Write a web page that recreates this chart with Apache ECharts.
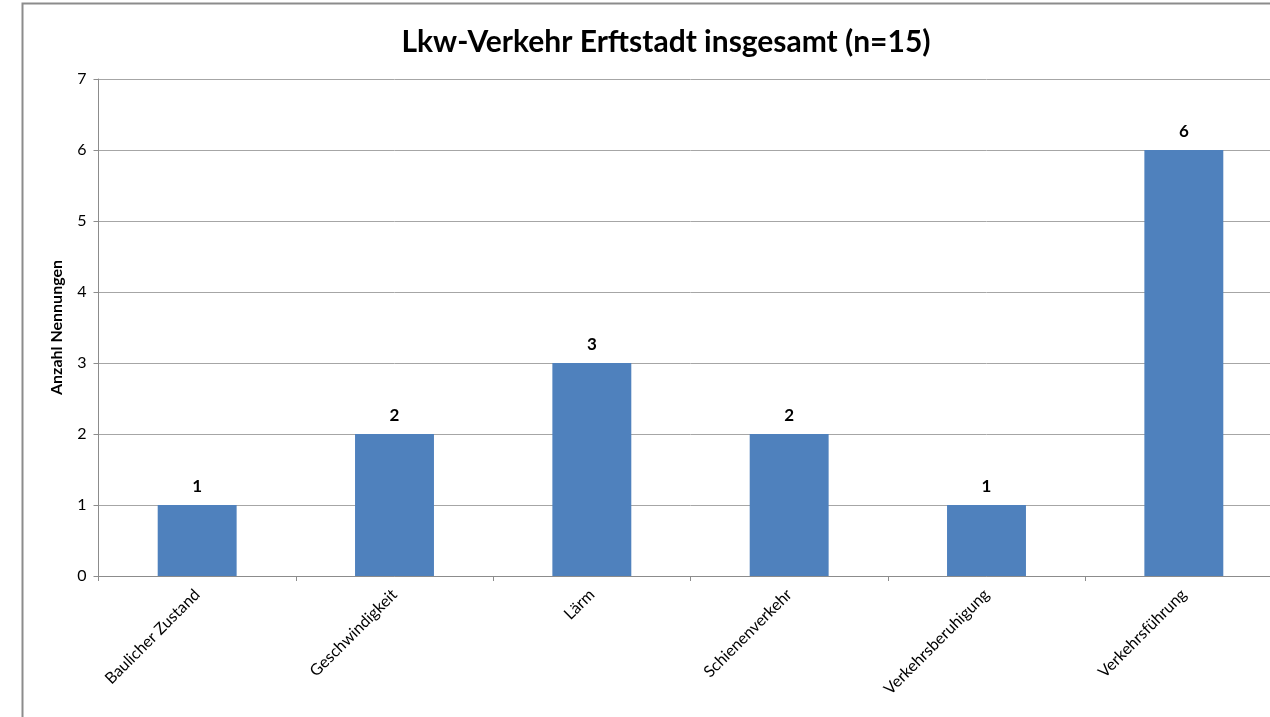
<!DOCTYPE html>
<html lang="de">
<head>
	<meta charset="utf-8" />
	<title>Lkw-Verkehr Erftstadt insgesamt</title>
	<style type="text/css">
		html,body{margin:0;padding:0;background:#fff;overflow:hidden;}
		/* etwas breiter als das Fenster: die Zeichenfläche läuft rechts über den Rand */
		#chart{width:1300px;height:717px;}
	</style>
</head>
<body>
	<div id="chart"></div>
<script src="https://cdn.jsdelivr.net/npm/echarts@6/dist/echarts.min.js"></script>
<script>
	// Kategorien und Werte
	var categories = ['Baulicher Zustand', 'Geschwindigkeit', 'Lärm', 'Schienenverkehr', 'Verkehrsberuhigung', 'Verkehrsführung'];
	var counts = [1, 2, 3, 2, 1, 6];
	var yTicks = [0, 1, 2, 3, 4, 5, 6, 7];

	var font = 'Lato, "Open Sans", sans-serif';
	var chart = echarts.init(document.getElementById('chart'));
	chart.setOption({
		backgroundColor: '#fff',
		animation: false,
		title: {
			text: 'Lkw-Verkehr Erftstadt insgesamt (n=15)',
			left: 661,
			top: 22,
			textAlign: 'center',
			textStyle: {fontFamily: font, fontSize: 30, fontWeight: 'bold', color: '#000'}
		},
		// Rahmen des Diagrammbereichs
		graphic: [{
			type: 'rect',
			shape: {x: 22.5, y: 3.5, width: 1300, height: 800},
			style: {fill: 'none', stroke: '#8c8c8c', lineWidth: 2},
			silent: true
		}],
		grid: {left: 98.5, width: 1184, top: 79, height: 497},
		xAxis: {
			type: 'category',
			data: categories,
			axisLine: {lineStyle: {color: '#8c8c8c'}},
			axisTick: {show: true, length: 5, lineStyle: {color: '#8c8c8c'}},
			axisLabel: {
				rotate: 45,
				margin: 16,
				fontFamily: font,
				fontSize: 16,
				color: '#000'
			}
		},
		yAxis: {
			type: 'value',
			min: yTicks[0],
			max: yTicks[yTicks.length - 1],
			interval: 1,
			name: 'Anzahl Nennungen',
			nameLocation: 'middle',
			nameGap: 34,
			nameTextStyle: {fontFamily: font, fontSize: 16, fontWeight: 'bold', color: '#000'},
			axisLine: {show: true, lineStyle: {color: '#8c8c8c'}},
			axisTick: {show: true, length: 5, lineStyle: {color: '#8c8c8c'}},
			axisLabel: {fontFamily: font, fontSize: 16, color: '#000', margin: 12},
			splitLine: {lineStyle: {color: '#a6a6a6'}}
		},
		series: [{
			type: 'bar',
			data: counts,
			barWidth: '40%',
			itemStyle: {color: '#4f81bd'},
			label: {
				show: true,
				position: 'top',
				distance: 10,
				fontFamily: font,
				fontSize: 17,
				fontWeight: 'bold',
				color: '#000'
			}
		}]
	});
</script>
</body>
</html>
